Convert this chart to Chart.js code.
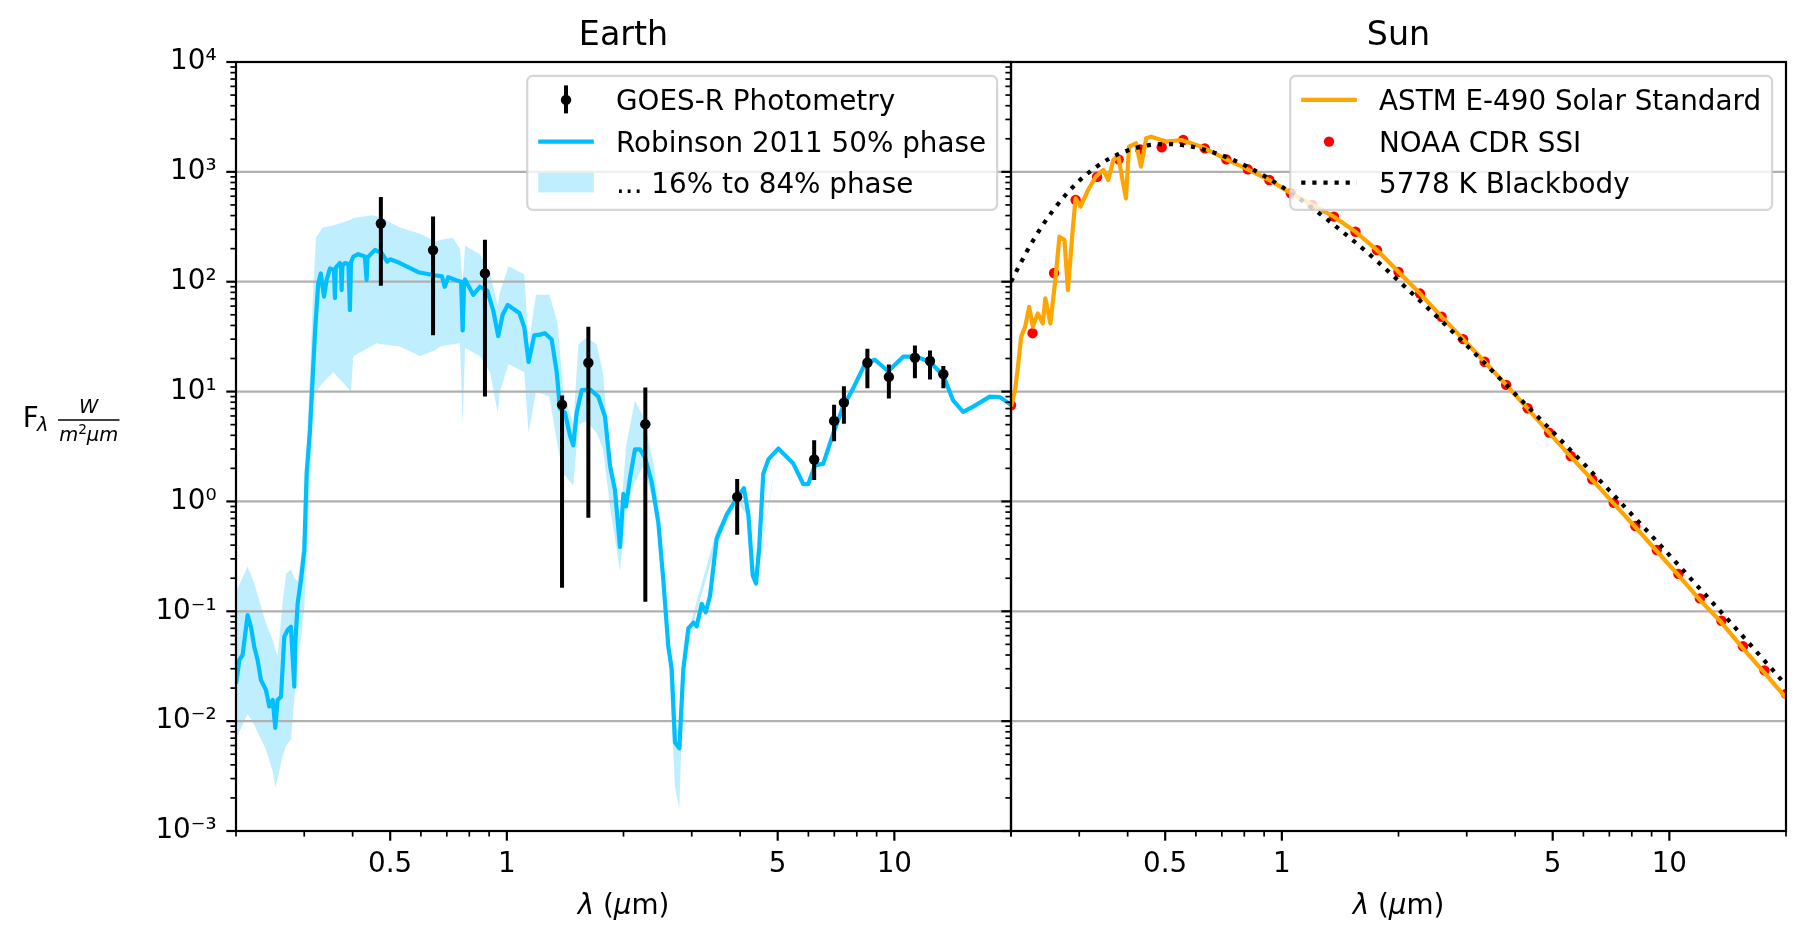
<!DOCTYPE html>
<html>
<head>
<meta charset="utf-8">
<script src="https://cdn.jsdelivr.net/npm/chart.js@4.4.1/dist/chart.umd.min.js"></script>
<style>
html,body{margin:0;padding:0;background:#fff;width:1807px;height:943px;overflow:hidden;}
#wrap{position:relative;width:1807px;height:943px;background:#fff;}
canvas{position:absolute;top:0;}
#earth{left:0;}
#sun{left:990px;}
</style>
</head>
<body>
<div id="wrap">
<canvas id="earth" width="1030" height="943"></canvas>
<canvas id="sun" width="817" height="943"></canvas>
</div>
<script>
// ---------------- DATA ----------------
// Earth: Robinson 2011 model, 50% phase (wavelength in µm, flux in W m^-2 µm^-1)
const earthLambda = [
0.2,0.2019,0.2039,0.208,0.2143,0.2186,0.2229,0.2274,0.2319,0.239,
0.2438,0.2487,0.2526,0.2561,0.2613,0.2665,0.2718,0.2772,0.28,0.2828,
0.2844,0.2885,0.2942,0.3001,0.3043,0.3105,0.32,0.326,0.331,0.3374,
0.3427,0.3495,0.358,0.36,0.362,0.3709,0.373,0.3746,0.3765,0.3821,
0.39,0.3936,0.396,0.4015,0.4136,0.43,0.4346,0.4369,0.4389,0.4566,
0.4753,0.4912,0.5,0.5298,0.5906,0.6457,0.68,0.691,0.7058,0.74,
0.762,0.769,0.776,0.78,0.819,0.852,0.89,0.922,0.95,0.9754,
1.005,1.077,1.109,1.138,1.177,1.218,1.254,1.305,1.345,1.371,
1.413,1.455,1.484,1.514,1.56,1.638,1.722,1.792,1.846,1.901,
1.959,1.998,2.03,2.079,2.141,2.206,2.273,2.364,2.46,2.533,
2.61,2.663,2.716,2.787,2.854,2.94,3.03,3.09,3.183,3.26,
3.344,3.479,3.692,3.92,4.09,4.2,4.31,4.395,4.48,4.59,
4.73,5.017,5.485,5.82,5.995,6.24,6.556,6.96,7.38,7.83,
8.4,8.91,9.64,10.55,11.41,12.35,13.37,14.18,15.05,15.97,
17.63,18.72,20.0];
const earthFlux = [
0.022,0.0272,0.036,0.040,0.0925,0.072,0.0476,0.036,0.0237,0.0192,
0.0136,0.0156,0.0087,0.0156,0.0167,0.0588,0.0676,0.0725,0.0386,0.0206,
0.05,0.118,0.193,0.36,1.8,4.5,36,97,119,73,
104,132,128,71,135,148,140,84,140,148,
145,55,150,169,178,170,104,165,169,195,
182,152,160,148,122,115,112,90,110,103,
100,36,100,105,76,90,83,55,32,50,
61.5,52,38.5,18.6,32.5,33,34,29.8,15,7,
6.4,4.0,3.24,6.4,10.3,10.5,9.0,5.9,2.12,1.27,
0.385,1.17,0.9,1.64,2.98,2.98,2.51,1.51,0.64,0.195,
0.048,0.0298,0.0064,0.00565,0.0298,0.07,0.079,0.073,0.117,0.098,
0.138,0.456,0.76,1.07,1.32,0.76,0.212,0.179,0.385,1.79,
2.41,3.03,2.21,1.44,1.44,2.12,2.21,4.19,7.3,10.7,
17.9,19.5,15.3,20.8,20.8,18.6,14.1,8.3,6.53,7.3,
9.0,8.9,7.6];

// Earth: 16% to 84% phase envelope
const bandLambda = [
0.2,0.2143,0.2229,0.239,0.2487,0.2526,0.2561,0.2639,0.2692,0.2772,
0.2828,0.2885,0.2942,0.3001,0.3043,0.3105,0.3162,0.3217,0.3346,0.3566,
0.3961,0.4015,0.4479,0.4614,0.4733,0.5298,0.597,0.6565,0.672,0.7246,
0.757,0.7691,0.78,0.8526,0.9048,0.9469,0.96,1.01,1.109,1.138,
1.189,1.287,1.352,1.398,1.484,1.53,1.607,1.705,1.77,1.846,
1.959,2.03,2.141,2.25,2.4,2.48,2.61,2.716,2.787,2.854,
3.0,3.479,3.92,4.2,4.395,5.0];
const bandHigh = [
0.15,0.255,0.18,0.078,0.055,0.045,0.039,0.12,0.22,0.24,
0.2,0.19,0.3,0.6,3,15,80,251,311,325,
369,380,402,395,385,311,273,231,240,251,
200,100,212,178,120,60,80,138,117,27,
76,76,42,10,5,27,31,27,15,2.5,
0.59,3.2,8.3,5.9,2.1,0.7,0.06,0.009,0.008,0.035,
0.085,0.55,1.15,0.8,0.19,3.05];
const bandLow = [
0.0068,0.0117,0.0092,0.0055,0.0035,0.0025,0.003,0.0048,0.006,0.0068,
0.0156,0.04,0.055,0.11,0.3,1.5,8,9.8,12,15,
10,21,26,27.5,27,25.7,21,24,25.7,27,
27.5,5,25,21,15,6.4,10,17.8,15,4.2,
10,9,3.2,1.8,1.4,5,5.4,4.2,3,0.9,
0.23,0.9,1.5,2.1,0.9,0.46,0.04,0.0025,0.0016,0.025,
0.07,0.42,1.0,0.72,0.17,2.95];

// Earth: GOES-R photometry with error bars
const goesLambda = [0.473,0.645,0.878,1.388,1.623,2.277,3.93,6.21,6.99,7.41,8.52,9.68,11.3,12.36,13.38];
const goesFlux   = [339,194,119,7.6,18.3,5.05,1.1,2.41,5.41,7.94,18.3,13.6,20.3,19.0,14.4];
const goesLow    = [92,32.5,9.0,0.164,0.71,0.122,0.497,1.57,3.53,5.1,10.7,8.65,13.2,12.9,10.7];
const goesHigh   = [590,392,241,9.2,39,10.9,1.6,3.6,7.6,11.2,24.5,17.6,26.2,23.7,17.1];

// Sun: ASTM E-490 solar standard
const astmLambda = [
0.2,0.2049,0.208,0.2124,0.2176,0.2228,0.2277,0.2345,0.2415,0.2453,
0.2527,0.2603,0.2667,0.2748,0.2805,0.289,0.2936,0.3024,0.3163,0.3309,
0.346,0.3566,0.3674,0.3785,0.3879,0.396,0.4033,0.4203,0.4331,0.4466,
0.46,0.503,0.5506,0.6206,0.7188,0.817,0.9283,1.055,1.199,1.363,
1.549,1.76,2.0,2.273,2.583,2.936,3.336,3.792,4.309,4.897,
5.566,6.325,7.188,8.17,9.283,10.55,11.99,13.63,15.49,17.6,20.0];
const astmFlux = [
7.3,10.3,15.7,31.6,39,59,39,51.5,41.7,70.6,
41.7,104,257,240,84,316,574,482,684,904,
1040,843,1282,1380,843,574,1700,1820,1115,2020,
2090,1885,1950,1695,1300,1055,843,640,500,390,
285,194,123,78,48,30,18.7,11.5,7.0,4.2,
2.56,1.57,0.955,0.585,0.352,0.213,0.127,0.079,0.046,0.0275,0.0163];

// Sun: NOAA CDR SSI points
const noaaLambda = [0.2,0.2273,0.2583,0.2936,0.3336,0.3792,0.4309,0.4897,0.5566,0.6325,
0.7188,0.817,0.9283,1.055,1.199,1.363,1.549,1.76,2.0,2.273,
2.583,2.936,3.336,3.792,4.309,4.897,5.566,6.325,7.188,8.17,
9.283,10.55,11.99,13.63,15.49,17.6,20.0];
const noaaFlux = [7.5,34,120,555,900,1300,1600,1675,1950,1637,
1300,1055,843,638,499,391,285,194,123,78,
48,30,18.7,11.5,7.05,4.23,2.59,1.59,0.97,0.597,
0.361,0.219,0.131,0.082,0.048,0.029,0.0177];

// Sun: 5778 K blackbody
const bbLambda = [0.2,0.22,0.24,0.26,0.28,0.3,0.33,0.36,0.4,0.45,0.5,0.55,0.6,0.7,0.8,0.9,1.0,1.2,1.5,1.75,2.0,2.5,3.0,3.5,4.0,5.0,6.0,7.0,8.0,10.0,12.0,15.0,20.0];
const bbFlux   = [100,190,317,472,646,830,1094,1328,1567,1741,1793,1758,1668,1414,1150,920,732,467,250,157,102,49,26.3,15.3,9.5,4.3,2.22,1.26,0.76,0.325,0.16,0.067,0.0213];

// Axis ticks
const xTickVals = [0.5, 1, 5, 10];
const xTickLabels = ['0.5', '1', '5', '10'];
const xMinorVals = [0.2,0.3,0.4,0.6,0.7,0.8,0.9,2,3,4,6,7,8,9,20];
const yTickVals = [1e-3,1e-2,1e-1,1,10,100,1000,10000];
const yTickLabels = ['10\u207B\u00B3','10\u207B\u00B2','10\u207B\u00B9','10\u2070','10\u00B9','10\u00B2','10\u00B3','10\u2074'];
const yMinorMult = [2,3,4,5,6,7,8,9];

// ---------------- HELPERS ----------------
const FONT = '"DejaVu Sans", "Liberation Sans", Arial, sans-serif';
const FS = 27.8;
const BLUE = '#00bfff', ORANGE = '#ffa500';
const BAND = 'rgba(0,191,255,0.25)';

function pts(xs, ys) { return xs.map((x, i) => ({x: x, y: ys[i]})); }
function errSegments(xs, lo, hi) {
  const out = [];
  xs.forEach((x, i) => { out.push({x: x, y: lo[i]}, {x: x, y: hi[i]}, {x: x, y: null}); });
  return out;
}
function fnt(size, italic) { return (italic ? 'italic ' : '') + size + 'px ' + FONT; }
function drawRuns(ctx, runs, x, y, align) {
  let w = 0;
  runs.forEach(r => { ctx.font = fnt(r.size || FS, r.italic); r.w = ctx.measureText(r.t).width; w += r.w; });
  let cx = align === 'center' ? x - w / 2 : (align === 'right' ? x - w : x);
  ctx.textAlign = 'left'; ctx.textBaseline = 'alphabetic'; ctx.fillStyle = '#000';
  runs.forEach(r => { ctx.font = fnt(r.size || FS, r.italic); ctx.fillText(r.t, cx, y + (r.dy || 0)); cx += r.w; });
  return w;
}
function seg(ctx, x0, y0, x1, y1, lw) {
  ctx.lineWidth = lw; ctx.beginPath(); ctx.moveTo(x0, y0); ctx.lineTo(x1, y1); ctx.stroke();
}
function drawGrid(chart) {
  const ctx = chart.ctx, a = chart.chartArea, ys = chart.scales.y;
  ctx.save(); ctx.strokeStyle = '#b0b0b0'; ctx.lineCap = 'butt';
  yTickVals.forEach(v => { const p = ys.getPixelForValue(v); seg(ctx, a.left, p, a.right, p, 2.2); });
  ctx.restore();
}
function drawFrameAndTicks(chart) {
  const ctx = chart.ctx, a = chart.chartArea, xs = chart.scales.x, ys = chart.scales.y;
  ctx.save(); ctx.strokeStyle = '#000'; ctx.lineCap = 'butt';
  yTickVals.forEach((v, i) => {
    const p = ys.getPixelForValue(v);
    seg(ctx, a.left, p, a.left - 9.7, p, 2.2);
    if (i < yTickVals.length - 1) {
      yMinorMult.forEach(m => { const q = ys.getPixelForValue(v * m); seg(ctx, a.left, q, a.left - 5.6, q, 1.7); });
    }
  });
  xTickVals.forEach(v => { const p = xs.getPixelForValue(v); seg(ctx, p, a.bottom, p, a.bottom + 9.7, 2.2); });
  xMinorVals.forEach(v => { const p = xs.getPixelForValue(v); seg(ctx, p, a.bottom, p, a.bottom + 5.6, 1.7); });
  ctx.lineWidth = 2.2; ctx.lineJoin = 'miter';
  ctx.strokeRect(a.left, a.top, a.right - a.left, a.bottom - a.top);
  ctx.restore();
}
function drawTitleAndXLabel(chart, title) {
  const ctx = chart.ctx, a = chart.chartArea, cx = (a.left + a.right) / 2;
  ctx.save();
  drawRuns(ctx, [{t: title, size: 33.3}], cx, 45.3, 'center');
  drawRuns(ctx, [{t: '\u03BB', italic: true}, {t: ' ('}, {t: '\u03BC', italic: true}, {t: 'm)'}], cx, 914, 'center');
  ctx.restore();
}
function legendBox(ctx, a, labels) {
  ctx.font = fnt(FS);
  let tw = 0; labels.forEach(l => { tw = Math.max(tw, ctx.measureText(l).width); });
  const w = 11 + 55.6 + 22.2 + tw + 11, h = 134;
  const x1 = a.right - 13.9, y0 = a.top + 13.9, x0 = x1 - w;
  ctx.beginPath(); ctx.roundRect(x0, y0, w, h, 5.6);
  ctx.fillStyle = 'rgba(255,255,255,0.8)'; ctx.fill();
  ctx.strokeStyle = 'rgba(204,204,204,0.8)'; ctx.lineWidth = 2.2; ctx.stroke();
  const base = [y0 + 34, y0 + 75.7, y0 + 116.7];
  labels.forEach((l, i) => drawRuns(ctx, [{t: l}], x0 + 11 + 55.6 + 22.2, base[i], 'left'));
  return {hx0: x0 + 11, hx1: x0 + 11 + 55.6, rows: base.map(b => b - 10)};
}

// ---------------- EARTH CHART ----------------
const earthPlugin = {
  id: 'earthPanel',
  beforeDatasetDraw(chart, args) { if (args.index === 2) drawGrid(chart); },
  afterDraw(chart) {
    const ctx = chart.ctx, a = chart.chartArea;
    drawFrameAndTicks(chart);
    drawTitleAndXLabel(chart, 'Earth');
    ctx.save();
    // y label: F_λ  W / (m² µm)
    drawRuns(ctx, [{t: 'F'}], 22.7, 427, 'left');
    drawRuns(ctx, [{t: '\u03BB', italic: true, size: 19.5}], 37, 431, 'left');
    drawRuns(ctx, [{t: 'W', italic: true, size: 19.5}], 88.7, 413, 'center');
    ctx.strokeStyle = '#000'; seg(ctx, 58, 420, 119.5, 420, 1.6);
    drawRuns(ctx, [{t: 'm', italic: true, size: 19.5}, {t: '2', size: 13.7, dy: -7}, {t: '\u03BC', italic: true, size: 19.5}, {t: 'm', italic: true, size: 19.5}], 88.7, 440.5, 'center');
    // legend
    const L = legendBox(ctx, a, ['GOES-R Photometry', 'Robinson 2011 50% phase', '... 16% to 84% phase']);
    const hc = (L.hx0 + L.hx1) / 2;
    ctx.strokeStyle = '#000'; ctx.lineCap = 'butt';
    seg(ctx, hc, L.rows[0] - 14.5, hc, L.rows[0] + 13.5, 4);
    ctx.fillStyle = '#000'; ctx.beginPath(); ctx.arc(hc, L.rows[0], 5.2, 0, Math.PI * 2); ctx.fill();
    ctx.strokeStyle = BLUE; ctx.lineCap = 'butt'; seg(ctx, L.hx0, L.rows[1], L.hx1, L.rows[1], 4.2);
    ctx.fillStyle = BAND; ctx.fillRect(L.hx0, L.rows[2] - 9.7, 55.6, 19.5);
    ctx.restore();
  }
};

new Chart(document.getElementById('earth'), {
  type: 'scatter',
  data: {
    datasets: [
      { label: 'band84', data: pts(bandLambda, bandHigh), showLine: true, borderWidth: 0, borderColor: 'rgba(0,0,0,0)', pointRadius: 0, fill: false, order: 10, clip: 0 },
      { label: 'band16', data: pts(bandLambda, bandLow), showLine: true, borderWidth: 0, borderColor: 'rgba(0,0,0,0)', pointRadius: 0, fill: '-1', backgroundColor: BAND, order: 9, clip: 0 },
      { label: 'Robinson 2011 50% phase', data: pts(earthLambda, earthFlux), showLine: true, borderColor: BLUE, borderWidth: 4.2, borderJoinStyle: 'round', pointRadius: 0, fill: false, order: 5, clip: 0 },
      { label: 'GOES-R error', data: errSegments(goesLambda, goesLow, goesHigh), showLine: true, spanGaps: false, borderColor: '#000', borderWidth: 4, borderCapStyle: 'butt', pointRadius: 0, fill: false, order: 2, clip: 0 },
      { label: 'GOES-R Photometry', data: pts(goesLambda, goesFlux), showLine: false, pointRadius: 5.2, pointBackgroundColor: '#000', pointBorderWidth: 0, order: 1, clip: 0 }
    ]
  },
  options: {
    responsive: false, maintainAspectRatio: false, animation: false, devicePixelRatio: 1, events: [],
    layout: { padding: { left: 0, right: 19, top: 62, bottom: 0 } },
    plugins: { legend: { display: false }, tooltip: { enabled: false }, title: { display: false } },
    scales: {
      x: {
        type: 'logarithmic', position: 'bottom', min: 0.2, max: 20,
        afterFit: s => { s.height = 112; },
        afterBuildTicks: s => { s.ticks = xTickVals.map(v => ({value: v})); },
        ticks: { callback: v => xTickLabels[xTickVals.indexOf(v)], font: { family: FONT, size: FS }, color: '#000', padding: 17, maxRotation: 0, autoSkip: false },
        grid: { display: false, drawTicks: false, tickLength: 0 }, border: { display: false }
      },
      y: {
        type: 'logarithmic', position: 'left', min: 1e-3, max: 1e4,
        afterFit: s => { s.width = 236; },
        afterBuildTicks: s => { s.ticks = yTickVals.map(v => ({value: v})); },
        ticks: { callback: v => yTickLabels[yTickVals.indexOf(v)], font: { family: FONT, size: FS }, color: '#000', padding: 19.4, autoSkip: false },
        grid: { display: false, drawTicks: false, tickLength: 0 }, border: { display: false }
      }
    }
  },
  plugins: [earthPlugin]
});

// ---------------- SUN CHART ----------------
const sunPlugin = {
  id: 'sunPanel',
  beforeDatasetsDraw(chart) { drawGrid(chart); },
  afterDraw(chart) {
    const ctx = chart.ctx, a = chart.chartArea;
    drawFrameAndTicks(chart);
    drawTitleAndXLabel(chart, 'Sun');
    ctx.save();
    const L = legendBox(ctx, a, ['ASTM E-490 Solar Standard', 'NOAA CDR SSI', '5778 K Blackbody']);
    ctx.lineCap = 'butt';
    ctx.strokeStyle = ORANGE; seg(ctx, L.hx0, L.rows[0], L.hx1, L.rows[0], 4.2);
    ctx.fillStyle = 'red'; ctx.beginPath(); ctx.arc((L.hx0 + L.hx1) / 2, L.rows[1], 5.2, 0, Math.PI * 2); ctx.fill();
    ctx.strokeStyle = '#000'; ctx.setLineDash([4.2, 6.9]); seg(ctx, L.hx0, L.rows[2], L.hx1, L.rows[2], 4.2); ctx.setLineDash([]);
    ctx.restore();
  }
};

new Chart(document.getElementById('sun'), {
  type: 'scatter',
  data: {
    datasets: [
      { label: 'NOAA CDR SSI', data: pts(noaaLambda, noaaFlux), showLine: false, pointRadius: 5.2, pointBackgroundColor: 'red', pointBorderWidth: 0, order: 3, clip: 0 },
      { label: 'ASTM E-490 Solar Standard', data: pts(astmLambda, astmFlux), showLine: true, borderColor: ORANGE, borderWidth: 4.2, borderJoinStyle: 'round', pointRadius: 0, fill: false, order: 2, clip: 0 },
      { label: '5778 K Blackbody', data: pts(bbLambda, bbFlux), showLine: true, borderColor: '#000', borderWidth: 4.2, borderDash: [4.2, 6.9], borderCapStyle: 'butt', pointRadius: 0, fill: false, cubicInterpolationMode: 'monotone', order: 1, clip: 0 }
    ]
  },
  options: {
    responsive: false, maintainAspectRatio: false, animation: false, devicePixelRatio: 1, events: [],
    layout: { padding: { left: 0, right: 21, top: 62, bottom: 0 } },
    plugins: { legend: { display: false }, tooltip: { enabled: false }, title: { display: false } },
    scales: {
      x: {
        type: 'logarithmic', position: 'bottom', min: 0.2, max: 20,
        afterFit: s => { s.height = 112; },
        afterBuildTicks: s => { s.ticks = xTickVals.map(v => ({value: v})); },
        ticks: { callback: v => xTickLabels[xTickVals.indexOf(v)], font: { family: FONT, size: FS }, color: '#000', padding: 17, maxRotation: 0, autoSkip: false },
        grid: { display: false, drawTicks: false, tickLength: 0 }, border: { display: false }
      },
      y: {
        type: 'logarithmic', position: 'left', min: 1e-3, max: 1e4,
        afterFit: s => { s.width = 21; },
        afterBuildTicks: s => { s.ticks = yTickVals.map(v => ({value: v})); },
        ticks: { display: false },
        grid: { display: false, drawTicks: false, tickLength: 0 }, border: { display: false }
      }
    }
  },
  plugins: [sunPlugin]
});
</script>
</body>
</html>
